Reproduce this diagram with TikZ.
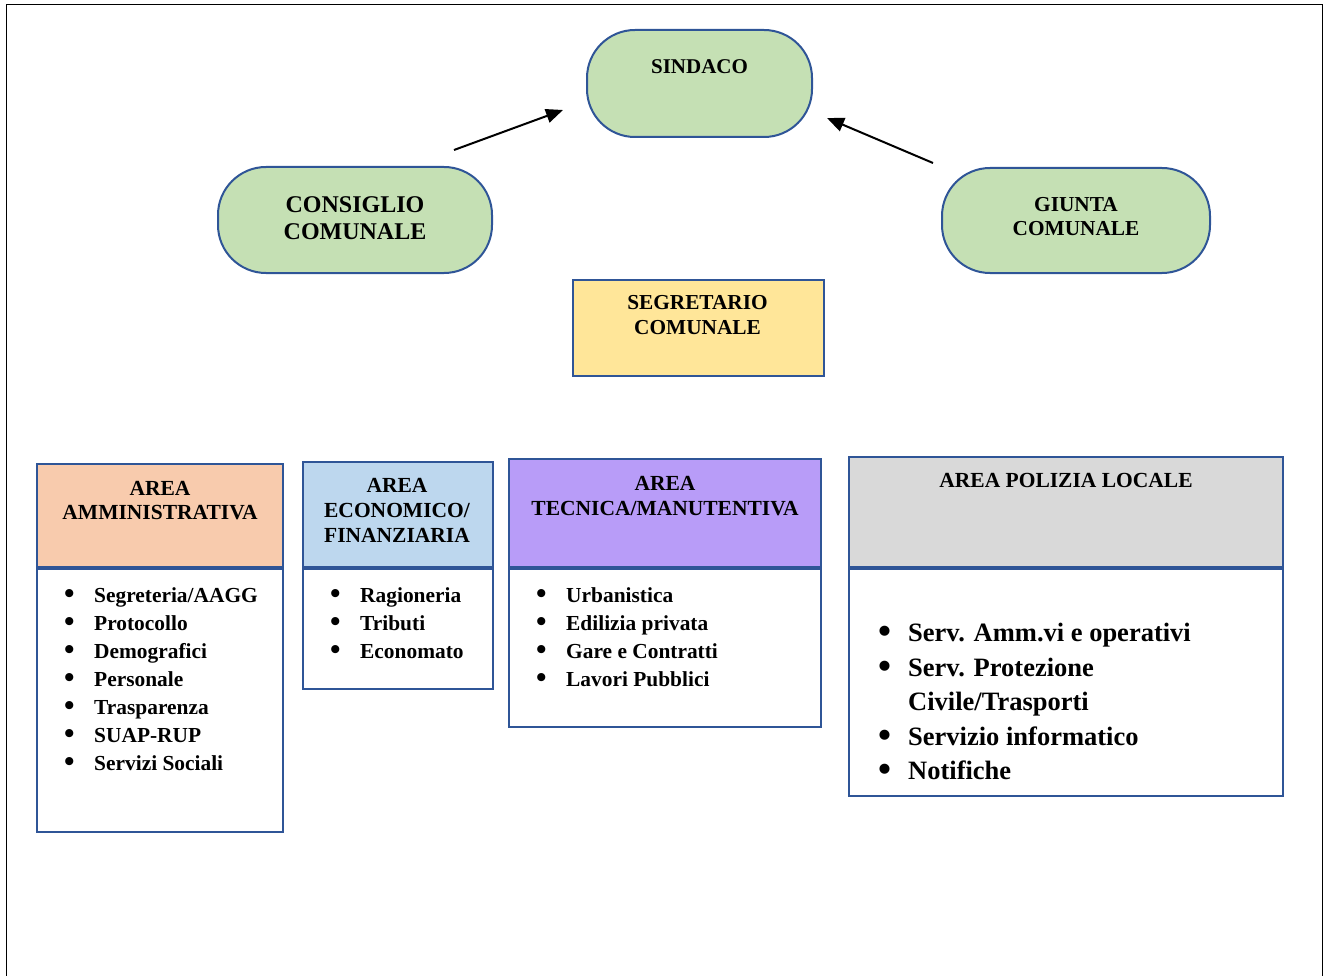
\documentclass[tikz,border=0pt]{standalone}
\usepackage{fontspec}
\setmainfont{Liberation Serif}
\usetikzlibrary{arrows.meta}
\definecolor{bordo}{HTML}{2F5597}
\definecolor{verde}{HTML}{C5E0B4}
\definecolor{giallo}{HTML}{FFE699}
\definecolor{pesca}{HTML}{F8CBAD}
\definecolor{celeste}{HTML}{BDD7EE}
\definecolor{lilla}{HTML}{B89CF8}
\definecolor{grigio}{HTML}{D9D9D9}
\newcommand{\voce}{\makebox[30pt][l]{\raisebox{-0.09em}{\scalebox{1.4}{\textbullet}}}}

\begin{document}
\begin{tikzpicture}[x=1pt, y=-1pt,
  organo/.style={draw=bordo, line width=2pt, fill=verde, rounded corners=48pt, inner sep=0pt},
  riquadro/.style={draw=bordo, line width=2pt, anchor=north west, inner sep=0pt},
  titolo/.style={anchor=north, inner sep=0pt, align=center, font=\bfseries\fontsize{21.5}{24}\selectfont},
  elenco/.style={anchor=north west, inner sep=0pt, align=left, font=\bfseries\fontsize{21.4}{28}\selectfont},
  freccia/.style={draw=black, line width=2pt, -{Triangle[length=17pt, width=14pt]}}]
\useasboundingbox (0,0) rectangle (1324,976);
\draw[black, line width=1pt] (6,976) -- (6,5) -- (1322,5) -- (1322,976);
%Organi
\node[organo, minimum width=225pt, minimum height=107pt] (sindaco) at (699.5,83.5) {};
\node[titolo, font=\bfseries\fontsize{21}{24}\selectfont] (sindacot) at ([yshift=-30pt]sindaco.north) {SINDACO};
\node[organo, minimum width=274pt, minimum height=106pt] (consiglio) at (355,220) {};
\node[titolo, font=\bfseries\fontsize{24}{27}\selectfont] (consigliot) at ([yshift=-30pt]consiglio.north) {CONSIGLIO\\COMUNALE};
\node[organo, minimum width=268pt, minimum height=105pt] (giunta) at (1076,220.5) {};
\node[titolo, font=\bfseries\fontsize{21.3}{24.5}\selectfont] (giuntat) at ([yshift=-30pt]giunta.north) {GIUNTA\\COMUNALE};
\coordinate (c1) at (454,150);
\coordinate (s1) at (563,110);
\coordinate (c2) at (933,163);
\coordinate (s2) at (827,118);
\draw[freccia] (c1) -- (s1);
\draw[freccia] (c2) -- (s2);
\node[riquadro, fill=giallo, minimum width=251pt, minimum height=96pt] (segretario) at (572,279) {};
\node[titolo, font=\bfseries\fontsize{21.3}{25}\selectfont] (segretariot) at ([xshift=-1pt, yshift=-16pt]segretario.north) {SEGRETARIO\\COMUNALE};
%Aree
\node[riquadro, fill=pesca, minimum width=246pt, minimum height=103pt] (ammh) at (36,463) {};
\node[riquadro, minimum width=246pt, minimum height=263pt] (ammc) at (36,568) {};
\node[titolo] (ammt) at ([yshift=-18pt]ammh.north) {AREA\\AMMINISTRATIVA};
\node[elenco] (amml) at ([xshift=28pt, yshift=-19pt]ammc.north west) {\voce Segreteria/AAGG\\ \voce Protocollo\\ \voce Demografici\\ \voce Personale\\ \voce Trasparenza\\ \voce SUAP-RUP\\ \voce Servizi Sociali};
\node[riquadro, fill=celeste, minimum width=190pt, minimum height=105pt] (ecoh) at (302,461) {};
\node[riquadro, minimum width=190pt, minimum height=120pt] (ecoc) at (302,568) {};
\node[titolo, font=\bfseries\fontsize{21.5}{25}\selectfont] (ecot) at ([xshift=-1pt, yshift=-17pt]ecoh.north) {AREA\\ECONOMICO/\\FINANZIARIA};
\node[elenco] (ecol) at ([xshift=28pt, yshift=-19pt]ecoc.north west) {\voce Ragioneria\\ \voce Tributi\\ \voce Economato};
\node[riquadro, fill=lilla, minimum width=312pt, minimum height=108pt] (tech) at (508,458) {};
\node[riquadro, minimum width=312pt, minimum height=158pt] (tecc) at (508,568) {};
\node[titolo, font=\bfseries\fontsize{21.5}{25}\selectfont] (tect) at ([yshift=-18pt]tech.north) {AREA\\TECNICA/MANUTENTIVA};
\node[elenco] (tecl) at ([xshift=28pt, yshift=-19pt]tecc.north west) {\voce Urbanistica\\ \voce Edilizia privata\\ \voce Gare e Contratti\\ \voce Lavori Pubblici};
\node[riquadro, fill=grigio, minimum width=434pt, minimum height=110pt] (polh) at (848,456) {};
\node[riquadro, minimum width=434pt, minimum height=227pt] (polc) at (848,568) {};
\node[titolo] (polt) at ([yshift=-17pt]polh.north) {AREA POLIZIA LOCALE};
\node[elenco, font=\bfseries\fontsize{26.5}{34.5}\selectfont] (poll) at ([xshift=30pt, yshift=-55pt]polc.north west) {\voce Serv. Amm.vi e operativi\\ \voce Serv. Protezione\\ \hspace*{30pt}Civile/Trasporti\\ \voce Servizio informatico\\ \voce Notifiche};
\end{tikzpicture}
\end{document}
